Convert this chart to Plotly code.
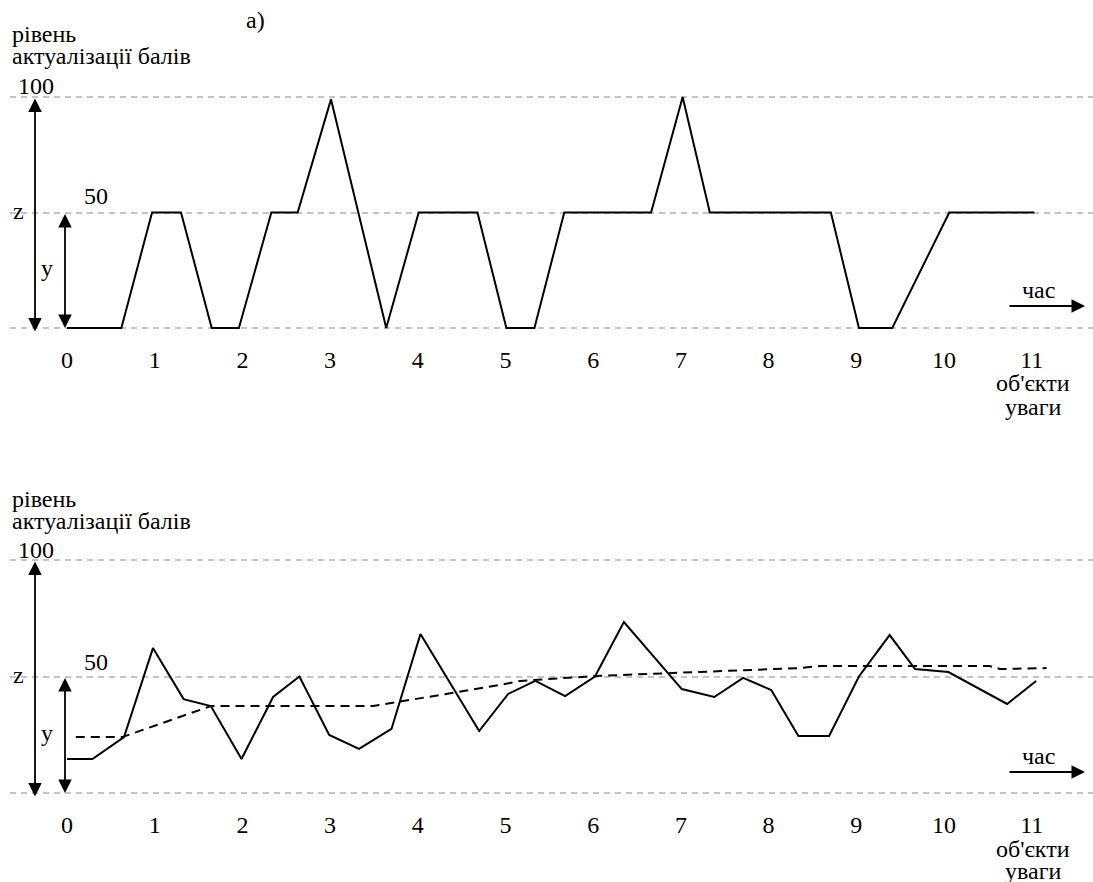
import plotly.graph_objects as go

# ---------------- data ----------------
tick_labels = [str(i) for i in range(12)]

# top chart (a): solid line
top_x = [0, 0.62, 0.97, 1.30, 1.65, 1.96, 2.33, 2.63, 3.01, 3.64, 4.01, 4.68, 5.01,
         5.33, 5.67, 6.66, 7.02, 7.33, 8.71, 9.03, 9.41, 10.06, 11.03]
top_y = [0, 0, 50, 50, 0, 0, 50, 50, 99, 0, 50, 50, 0,
         0, 50, 50, 100, 50, 50, 0, 0, 50, 50]

# bottom chart: solid line
bot_x = [0, 0.29, 0.65, 0.98, 1.33, 1.64, 1.99, 2.35, 2.65, 2.99, 3.33, 3.70, 4.03,
         4.70, 5.03, 5.34, 5.68, 6.02, 6.35, 7.01, 7.38, 7.71, 8.03, 8.34, 8.69,
         9.03, 9.38, 9.67, 10.05, 10.72, 11.05]
bot_y = [14.6, 14.6, 24.0, 62.2, 40.3, 37.3, 14.6, 41.2, 50, 24.9, 18.9, 27.5, 68.2,
         26.6, 42.5, 48.1, 41.6, 50, 73.4, 44.6, 41.2, 49.4, 44.2, 24.5, 24.5,
         50, 67.8, 53.2, 51.9, 38.2, 48.1]

# bottom chart: dashed (average) line
avg_x = [0.10, 0.63, 1.64, 3.49, 4.94, 5.17, 6.02, 6.84, 8.34, 8.59, 10.52, 10.64, 11.17]
avg_y = [24.0, 24.0, 37.3, 37.3, 46.4, 48.1, 50.2, 51.5, 53.6, 54.5, 54.5, 53.2, 53.6]

grid_vals = [0, 50, 100]

# ---------------- figure ----------------
W, H = 1093, 882
FONT = '"Liberation Serif", "Times New Roman", Times, serif'
FS = 24


def px(x):
    return x / W


def py(y):
    return 1 - y / H


fig = go.Figure()
fig.add_trace(go.Scatter(x=top_x, y=top_y, mode="lines", xaxis="x", yaxis="y",
                         line=dict(color="black", width=2), hoverinfo="skip"))
fig.add_trace(go.Scatter(x=bot_x, y=bot_y, mode="lines", xaxis="x2", yaxis="y2",
                         line=dict(color="black", width=2), hoverinfo="skip"))
fig.add_trace(go.Scatter(x=avg_x, y=avg_y, mode="lines", xaxis="x2", yaxis="y2",
                         line=dict(color="black", width=2, dash="9px,6px"), hoverinfo="skip"))

xr = [(10 - 67) / 87.7, (1093 - 67) / 87.7]
xcommon = dict(range=xr, domain=[10 / W, 1], showgrid=False, zeroline=False, showline=False,
               tickmode="array", tickvals=list(range(12)), ticktext=tick_labels,
               ticks="outside", ticklen=1, tickcolor="rgba(0,0,0,0)",
               tickfont=dict(family=FONT, size=FS, color="black"), fixedrange=True)
ycommon = dict(range=[-4, 104], tickmode="array", tickvals=grid_vals, showticklabels=False,
               showgrid=True, gridcolor="#c4c4c4", gridwidth=1.5, griddash="6px,5px",
               zeroline=False, showline=False, ticks="", fixedrange=True)

fig.update_layout(
    width=W, height=H, margin=dict(l=0, r=0, t=0, b=0),
    paper_bgcolor="white", plot_bgcolor="white", showlegend=False,
    font=dict(family=FONT, size=FS, color="black"),
    xaxis=dict(**xcommon, anchor="y"),
    yaxis=dict(**ycommon, domain=[py(337.2), py(87.8)], anchor="x"),
    xaxis2=dict(**xcommon, anchor="y2"),
    yaxis2=dict(**ycommon, domain=[py(802.3), py(550.7)], anchor="x2"),
)

ann = []


def text(t, x, y, xanchor="center"):
    ann.append(dict(text=t, x=px(x), y=py(y), xref="paper", yref="paper",
                    xanchor=xanchor, yanchor="middle", showarrow=False,
                    font=dict(family=FONT, size=FS, color="black")))


# top panel texts
text("а)", 255, 20)
text("рівень", 10, 34, "left")
text("актуалізації балів", 10, 56, "left")
text("100", 36, 86)
text("50", 96, 196)
text("z", 18, 211)
text("y", 47, 268)
text("час", 1038, 290)
text("об'єкти", 1033, 383)
text("уваги", 1033, 407)

# bottom panel texts
text("рівень", 10, 499, "left")
text("актуалізації балів", 10, 521, "left")
text("100", 36, 550)
text("50", 96, 662)
text("z", 18, 675)
text("y", 47, 733)
text("час", 1038, 756)
text("об'єкти", 1033, 849)
text("уваги", 1033, 871)

# vertical double arrows (in data units of each panel)
xa_big = (35 - 67) / 87.7
xa_small = (65 - 67) / 87.7
for xr_, yr_ in (("x", "y"), ("x2", "y2")):
    ann.append(dict(x=xa_big, y=-1.5, ax=xa_big, ay=100, xref=xr_, yref=yr_, axref=xr_, ayref=yr_,
                    text="", showarrow=True, arrowhead=2, startarrowhead=2, arrowside="end+start",
                    arrowsize=1.5, startarrowsize=1.5, arrowwidth=1.8, arrowcolor="black",
                    standoff=0, startstandoff=0))
    ann.append(dict(x=xa_small, y=0, ax=xa_small, ay=50, xref=xr_, yref=yr_, axref=xr_, ayref=yr_,
                    text="", showarrow=True, arrowhead=2, startarrowhead=2, arrowside="end+start",
                    arrowsize=1.5, startarrowsize=1.5, arrowwidth=1.8, arrowcolor="black",
                    standoff=0, startstandoff=0))

# time arrows
for yy in (306, 772):
    ann.append(dict(x=px(1085), y=py(yy), xref="paper", yref="paper", ax=-77, ay=0,
                    text="", showarrow=True, arrowhead=2, arrowsize=1.5, arrowwidth=1.8,
                    arrowcolor="black", standoff=0))

fig.update_layout(annotations=ann)
fig.write_html("out.html", config={"displayModeBar": False},
               post_script="document.body.style.margin='0';")
